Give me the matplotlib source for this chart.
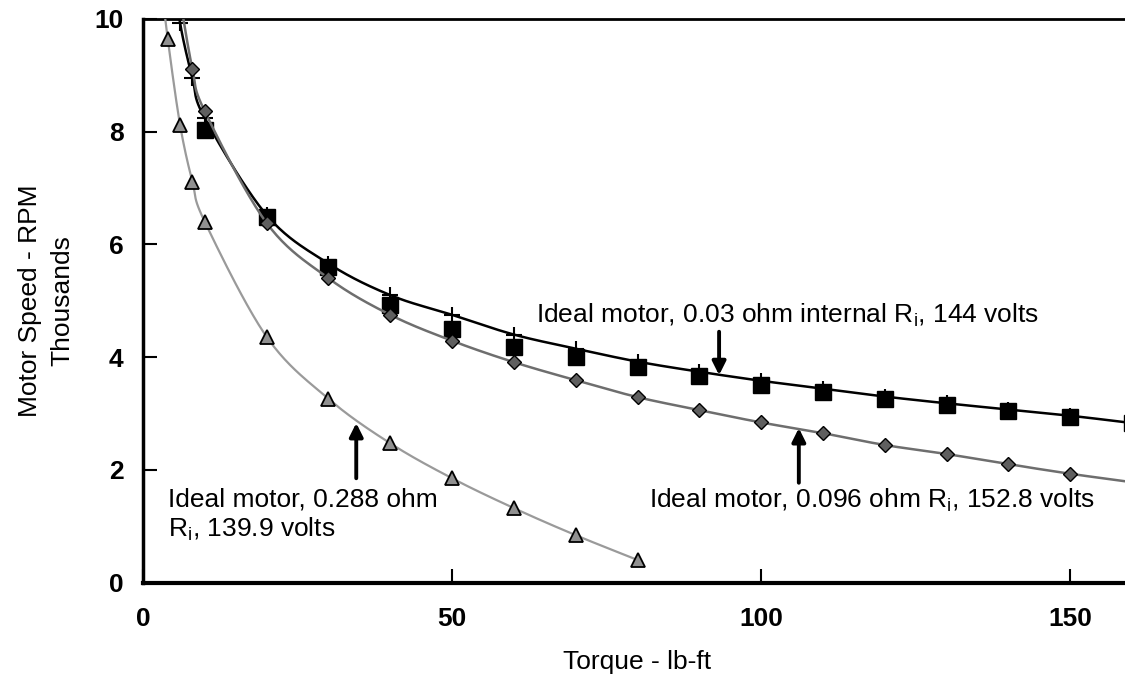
import matplotlib
matplotlib.use("Agg")
import matplotlib.pyplot as plt
import numpy as np

plt.rcParams['font.family'] = ['Liberation Sans', 'DejaVu Sans']
plt.rcParams['mathtext.default'] = 'regular'

# ---- data ----
plus_T = [5, 6, 8, 10, 20, 30, 40, 50, 60, 70, 80, 90, 100, 110, 120, 130, 140, 150, 160]
plus_S = [10.9, 9.93, 8.95, 8.24, 6.52, 5.66, 5.10, 4.75, 4.40, 4.15, 3.92, 3.74, 3.58,
          3.44, 3.30, 3.18, 3.07, 2.96, 2.83]

sq_T = [10, 20, 30, 40, 50, 60, 70, 80, 90, 100, 110, 120, 130, 140, 150, 160]
sq_S = [8.03, 6.48, 5.60, 4.92, 4.50, 4.18, 4.00, 3.82, 3.66, 3.50, 3.38, 3.26, 3.15,
        3.04, 2.94, 2.83]

dia_T = [6, 8, 10, 20, 30, 40, 50, 60, 70, 80, 90, 100, 110, 120, 130, 140, 150, 160]
dia_S = [10.35, 9.11, 8.36, 6.38, 5.40, 4.75, 4.29, 3.91, 3.59, 3.29, 3.06, 2.84, 2.65,
         2.44, 2.28, 2.10, 1.93, 1.78]

tri_T = [3, 4, 6, 8, 10, 20, 30, 40, 50, 60, 70, 80]
tri_S = [10.6, 9.65, 8.12, 7.11, 6.40, 4.36, 3.26, 2.47, 1.85, 1.32, 0.84, 0.40]

x_ticks = [0, 50, 100, 150]
y_ticks = [0, 2, 4, 6, 8, 10]

label_a = "Ideal motor, 0.03 ohm internal R$_{i}$, 144 volts"
label_b = "Ideal motor, 0.096 ohm R$_{i}$, 152.8 volts"
label_c = "Ideal motor, 0.288 ohm\nR$_{i}$, 139.9 volts"


def smooth(x, y, n=24):
    """Smoothed line drawing (Catmull-Rom, like a spreadsheet 'smoothed line')."""
    p = np.column_stack([x, y]).astype(float)
    p = np.vstack([p[0], p, p[-1]])
    out = []
    for i in range(1, len(p) - 2):
        p0, p1, p2, p3 = p[i - 1], p[i], p[i + 1], p[i + 2]
        t = np.linspace(0, 1, n, endpoint=False)[:, None]
        c = 0.5 * ((2 * p1) + (-p0 + p2) * t + (2 * p0 - 5 * p1 + 4 * p2 - p3) * t ** 2
                   + (-p0 + 3 * p1 - 3 * p2 + p3) * t ** 3)
        out.append(c)
    out.append(p[-2][None, :])
    c = np.vstack(out)
    return c[:, 0], c[:, 1]


fig = plt.figure(figsize=(11.25, 6.83), dpi=100)
ax = fig.add_axes([143 / 1125, (683 - 582.5) / 683, 989 / 1125, 563.5 / 683])
ax.set_xlim(0, 160)
ax.set_ylim(0, 10)

# 0.03 ohm series (+ with line) and squares
ax.plot(*smooth(plus_T, plus_S), color='black', lw=1.8, zorder=2)
ax.plot(plus_T, plus_S, ls='none', marker='+', ms=12, mew=1.5, color='black', zorder=3)
ax.plot(sq_T, sq_S, ls='none', marker='s', ms=11.5, color='black', zorder=4)

# 0.096 ohm series
ax.plot(*smooth(dia_T, dia_S), color='#6e6e6e', lw=1.8, zorder=5)
ax.plot(dia_T, dia_S, ls='none', marker='D', ms=7.5, mfc='#5f5f5f', mec='black',
        mew=1.0, zorder=6)

# 0.288 ohm series
ax.plot(*smooth(tri_T, tri_S), color='#9a9a9a', lw=1.6, zorder=5)
ax.plot(tri_T, tri_S, ls='none', marker='^', ms=10, mfc='#909090', mec='black',
        mew=1.3, zorder=6)

arrow = dict(arrowstyle='-|>', lw=2.8, color='black', mutation_scale=20,
             shrinkA=0, shrinkB=0)
ax.annotate('', xy=(93.2, 3.68), xytext=(93.2, 4.45), arrowprops=arrow, zorder=8)
ax.annotate('', xy=(106.1, 2.74), xytext=(106.1, 1.77), arrowprops=arrow, zorder=8)
ax.annotate('', xy=(34.5, 2.83), xytext=(34.5, 1.85), arrowprops=arrow, zorder=8)

ax.text(63.5, 4.605, label_a, fontsize=19, ha='left', va='baseline', zorder=9)
ax.text(81.9, 1.32, label_b, fontsize=19, ha='left', va='baseline', zorder=9)
ax.text(4.05, 0.81, label_c, fontsize=19, ha='left', va='baseline', linespacing=1.21,
        zorder=9)

ax.set_xticks(x_ticks)
ax.set_yticks(y_ticks)
ax.tick_params(axis='both', direction='in', length=10, width=1.5, labelsize=19)
ax.tick_params(axis='x', pad=18)
ax.tick_params(axis='y', pad=14)
for lbl in ax.get_xticklabels() + ax.get_yticklabels():
    lbl.set_fontweight('bold')

ax.spines['left'].set_linewidth(2.5)
ax.spines['bottom'].set_linewidth(3)
ax.spines['top'].set_linewidth(2)
ax.spines['right'].set_visible(False)

ax.set_xlabel('Torque - lb-ft', fontsize=19, labelpad=13)
ax.set_ylabel('Motor Speed - RPM\nThousands', fontsize=19, labelpad=14, linespacing=1.45)

fig.savefig('out.png', dpi=100)
